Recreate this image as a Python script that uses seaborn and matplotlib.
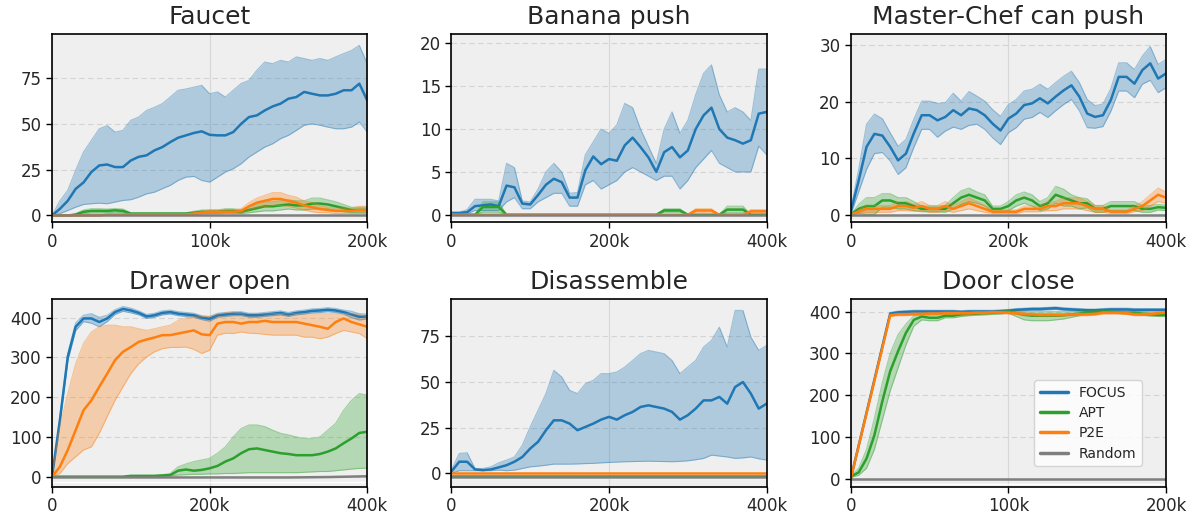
import numpy as np
import matplotlib
matplotlib.use("Agg")
import matplotlib.pyplot as plt
import matplotlib.transforms as mtransforms
from matplotlib.lines import Line2D
from matplotlib.ticker import FuncFormatter
import seaborn as sns

methods = ["FOCUS", "APT", "P2E", "Random"]
colors = {"FOCUS": "#1f77b4", "APT": "#2ca02c", "P2E": "#ff7f0e", "Random": "#7f7f7f"}

titles = ["Faucet", "Banana push", "Master-Chef can push",
          "Drawer open", "Disassemble", "Door close"]
x_max = [200_000, 400_000, 400_000, 400_000, 400_000, 200_000]
y_ticks = [[0, 25, 50, 75], [0, 5, 10, 15, 20], [0, 10, 20, 30],
           [0, 100, 200, 300, 400], [0, 25, 50, 75], [0, 100, 200, 300, 400]]
y_lims = [(-3.8, 99), (-0.9, 21.1), (-1.4, 32), (-26, 448), (-7.4, 95.5), (-20, 431)]

# ---- Faucet ----
faucet_focus_mean = [0, 3.6, 8, 14.5, 18, 23.7, 27.3, 27.8, 26.4, 26.4, 30, 32, 32.8, 35.5, 37.3, 40, 42.4,
                     43.7, 45, 45.9, 44, 43.7, 43.7, 45.5, 50, 53.7, 54.6, 57.3, 59.5, 61, 63.7, 64.6, 67.4,
                     66.4, 65.5, 65.5, 66.4, 68.3, 68.3, 71.9, 62.8]
faucet_focus_lo = [0, 1, 2.7, 4.5, 6, 6.4, 6.7, 6.4, 7.3, 8.2, 8.6, 10, 11.8, 12.7, 14.6, 16.4, 19.1, 20.9,
                   21.3, 19.1, 18.2, 20.9, 23.7, 25.5, 28.2, 31.9, 34.6, 37.3, 39.1, 41.9, 43.7, 46.4, 49.2,
                   50, 49.2, 48.2, 47.3, 47.3, 48.2, 51, 45.5]
faucet_focus_hi = [0, 8, 13.7, 24.6, 34.6, 41, 47.3, 49, 45.5, 46.4, 51.9, 53.7, 57.3, 59, 61, 64.6, 68.3,
                   69, 70, 71, 66.4, 67.4, 64.6, 68.3, 72, 73.7, 79.2, 83.7, 82.8, 84.6, 83.7, 86.5, 85.6,
                   84.6, 85.6, 84.6, 86.5, 88.3, 90, 92.8, 82.8]
faucet_apt_mean = [0, 0, 0, 0.5, 2, 2.5, 2.5, 2.5, 2.8, 2.5, 1, 1, 1, 1, 1, 1, 1, 1, 1.5, 2, 2, 2, 2.5, 2.5,
                   2, 3, 4, 5, 5, 5.5, 6, 5.5, 5.5, 6.5, 6.5, 6, 5, 4, 3, 3, 3]
faucet_apt_sd = [0, 0, 0, 0.5, 1, 1.2, 1.2, 1, 1, 1, 0.5, 0.5, 0.5, 0.5, 0.5, 0.5, 0.5, 0.5, 0.8, 1, 1, 1,
                 1.2, 1.2, 1, 1.5, 2, 2.5, 2.5, 2.5, 2.5, 2.5, 2.5, 3, 3, 2.5, 2.5, 2, 1.5, 1.5, 1.5]
faucet_p2e_mean = [0, 0, 0, 0, 0, 0, 0, 0.5, 0.5, 0.5, 0.5, 0.5, 0.5, 0.5, 0.5, 0.5, 0.5, 0.5, 1, 1.5, 2,
                   2, 2, 2, 2.5, 5, 7, 8, 9, 9, 8, 7, 5.5, 4.5, 3.5, 3, 2.5, 2.5, 2.5, 3, 3]
faucet_p2e_sd = [0, 0, 0, 0, 0, 0, 0, 0.3, 0.3, 0.3, 0.3, 0.3, 0.3, 0.3, 0.3, 0.3, 0.3, 0.3, 0.5, 0.8, 1,
                 1, 1, 1, 1.2, 2, 2.5, 3, 3.5, 3.5, 3, 3, 2.5, 2.5, 2, 1.5, 1.5, 1.5, 1.5, 2, 2]
faucet_rand_mean = [0, 0]

# ---- Banana push ----
banana_focus_mean = [0.2, 0.2, 0.3, 1.0, 1.1, 1.2, 1.0, 3.4, 3.2, 1.3, 1.2, 2.3, 3.5, 4.2, 3.8, 2.0, 2.0,
                     5.2, 6.8, 5.9, 6.5, 6.3, 8.1, 9.0, 7.9, 6.7, 5.0, 7.3, 7.9, 6.7, 7.5, 10, 11.6, 12.5,
                     10, 9, 8.7, 8.3, 8.7, 11.8, 12]
banana_focus_lo = [0.1, 0.1, 0.1, 0.5, 0.5, 0.5, 0.5, 1.5, 2.0, 0.7, 0.7, 1.5, 2.0, 2.5, 2.5, 1.0, 1.0, 3.5,
                   4.0, 3.0, 3.5, 4.0, 5.0, 5.5, 5.0, 4.5, 4.0, 4.5, 4.5, 3.0, 4.0, 5.5, 6.5, 7.5, 6.0, 5.5,
                   5.0, 5.0, 5.0, 8.0, 7.0]
banana_focus_hi = [0.3, 0.3, 0.6, 1.8, 1.8, 1.8, 1.6, 6.0, 5.5, 1.6, 1.5, 3.0, 5.0, 6.0, 5.0, 2.5, 2.6, 7.0,
                   8.5, 10, 9.5, 10.5, 13, 12.5, 10, 8, 6, 10, 12, 9.5, 11, 14, 16.5, 17.5, 14, 12, 12.5,
                   12, 11, 17, 17]
banana_apt_mean = [0, 0, 0, 0, 0.9, 0.9, 0.9, 0, 0, 0, 0, 0, 0, 0, 0, 0, 0, 0, 0, 0, 0, 0, 0, 0, 0, 0, 0,
                   0.5, 0.5, 0.5, 0, 0, 0, 0, 0, 0.6, 0.6, 0.6, 0, 0, 0]
banana_apt_sd = [0, 0, 0, 0, 0.6, 0.6, 0.6, 0, 0, 0, 0, 0, 0, 0, 0, 0, 0, 0, 0, 0, 0, 0, 0, 0, 0, 0, 0,
                 0.2, 0.2, 0.2, 0, 0, 0, 0, 0, 0.4, 0.4, 0.4, 0, 0, 0]
banana_p2e_mean = [0, 0, 0, 0, 0, 0, 0, 0, 0, 0, 0, 0, 0, 0, 0, 0, 0, 0, 0, 0, 0, 0, 0, 0, 0, 0, 0, 0, 0,
                   0, 0, 0.5, 0.5, 0.5, 0, 0, 0, 0, 0.4, 0.4, 0.4]
banana_p2e_sd = [0, 0, 0, 0, 0, 0, 0, 0, 0, 0, 0, 0, 0, 0, 0, 0, 0, 0, 0, 0, 0, 0, 0, 0, 0, 0, 0, 0, 0,
                 0, 0, 0.2, 0.2, 0.2, 0, 0, 0, 0, 0.2, 0.2, 0.2]
banana_rand_mean = [0, 0]

# ---- Master-Chef can push ----
chef_focus_mean = [0.5, 6, 12, 14.3, 14, 12, 9.6, 10.8, 14.4, 17.6, 17.6, 16.7, 17.3, 18.5, 17.6, 18.8,
                   18.5, 17.6, 16.1, 14.9, 17, 17.9, 19.4, 19.7, 20.6, 19.7, 20.9, 22, 22.9, 20.9, 17.9,
                   17.3, 17.6, 20.3, 24.4, 24.4, 23.2, 25.6, 26.8, 24.1, 25]
chef_focus_sd = [0.5, 2, 4, 3.5, 3, 2.5, 2.5, 2.5, 2.5, 2.5, 2.5, 3, 2.5, 3, 2.5, 3, 2.5, 2.5, 2.5, 2.5,
                 2.5, 2.5, 2.5, 2.5, 2.5, 2.5, 2.5, 2.5, 2.5, 2.5, 2.5, 2, 2, 2, 2.5, 2.5, 2.5, 2.5, 3, 2.5,
                 2.5]
chef_apt_mean = [0, 1, 1.5, 1.5, 2.5, 2.5, 2, 2, 1.5, 1, 1, 1, 1, 2, 3, 3.5, 3, 2.5, 1, 1, 1.5, 2.5, 3, 2.5,
                 1.5, 2, 3.5, 3, 2.5, 2, 2, 1, 1, 1.5, 1.5, 1.5, 1.5, 1, 1, 1.3, 1.2]
chef_apt_sd = [0, 0.8, 1.5, 1.5, 1.2, 1.2, 1, 1, 0.8, 0.5, 0.5, 0.5, 0.6, 1, 1.2, 1.2, 1, 1, 0.5, 0.5, 0.8,
               1, 1, 1, 0.8, 1, 1.5, 1.5, 1, 1, 0.8, 0.6, 0.6, 0.8, 0.8, 0.8, 0.8, 0.6, 0.6, 0.5, 0.5]
chef_p2e_mean = [0, 0.5, 1, 1, 1, 1, 1.5, 1.5, 1.2, 1.5, 1, 1, 1.5, 1, 1.5, 2, 1.5, 1, 0.5, 0.5, 0.5, 0.5,
                 1, 1, 1, 1.5, 1.5, 2, 2, 2, 1.5, 1, 1, 0.5, 0.5, 0.5, 1, 1.5, 2.5, 3.5, 3]
chef_p2e_sd = [0, 0.3, 0.6, 0.6, 0.6, 0.6, 0.8, 0.8, 0.6, 0.8, 0.6, 0.6, 0.8, 0.6, 0.8, 1, 0.8, 0.6, 0.3,
               0.3, 0.3, 0.3, 0.5, 0.5, 0.5, 0.8, 0.8, 1, 1, 1, 0.8, 0.6, 0.6, 0.3, 0.3, 0.3, 0.5, 0.8, 1,
               1.2, 1]
chef_rand_mean = [0, 0]

# ---- Drawer open ----
drawer_focus_mean = [0, 142, 301, 377, 398, 398, 389, 398, 414, 422, 418, 412, 403, 406, 412, 414, 410,
                     408, 406, 400, 397, 406, 408, 410, 410, 406, 406, 408, 410, 412, 408, 412, 414, 417,
                     418, 420, 418, 414, 408, 402, 403]
drawer_focus_sd = [0, 8, 10, 10, 8, 12, 12, 8, 6, 6, 6, 5, 5, 5, 5, 5, 5, 5, 5, 5, 6, 5, 5, 5, 5, 5, 5, 5,
                   5, 5, 5, 5, 5, 5, 5, 5, 5, 5, 8, 8, 6]
drawer_apt_mean = [0, 0, 0, 0, 0, 0, 0, 0, 0, 0, 2, 2, 2, 2, 3, 4, 15, 18, 15, 17, 21, 27, 38, 46, 59, 69,
                   71, 67, 63, 59, 57, 54, 54, 54, 57, 63, 71, 84, 96, 110, 113]
drawer_apt_lo = [0, 0, 0, 0, 0, 0, 0, 0, 0, 0, 1, 1, 1, 1, 1, 2, 4, 5, 6, 6, 7, 7, 8, 8, 9, 10, 10, 10, 10,
                 10, 10, 10, 11, 12, 13, 13, 15, 17, 19, 21, 21]
drawer_apt_hi = [0, 0, 0, 0, 0, 0, 0, 0, 0, 0, 3, 3, 3, 3, 5, 8, 25, 32, 38, 42, 46, 59, 75, 100, 121, 130,
                 130, 126, 117, 109, 105, 100, 96, 96, 100, 117, 134, 167, 192, 209, 205]
drawer_p2e_mean = [0, 25, 67, 117, 167, 192, 226, 259, 293, 314, 326, 339, 345, 350, 356, 356, 360, 364,
                   368, 358, 356, 385, 389, 389, 385, 389, 389, 392, 389, 389, 389, 389, 385, 381, 377,
                   372, 389, 398, 389, 383, 377]
drawer_p2e_lo = [0, 8, 33, 50, 67, 75, 109, 151, 192, 226, 259, 284, 301, 314, 322, 325, 325, 326, 320,
                 310, 318, 356, 361, 360, 364, 361, 360, 358, 356, 356, 356, 356, 351, 351, 347, 351, 360,
                 368, 364, 360, 347]
drawer_p2e_hi = [0, 126, 209, 284, 335, 364, 377, 381, 381, 377, 377, 372, 368, 372, 377, 381, 393, 400,
                 402, 402, 403, 408, 412, 412, 410, 410, 410, 410, 410, 410, 410, 410, 410, 410, 410, 410,
                 410, 410, 410, 408, 402]
drawer_rand_mean = [-2, -2, -2, -2, -2, -2, -2, -1, 1]

# ---- Disassemble ----
disasm_focus_mean = [1, 6.4, 6.4, 2.2, 1.8, 2.2, 3.3, 4.5, 6.4, 9, 13.6, 17.3, 23.6, 29, 29, 27.2, 23.6,
                     25.4, 27.2, 29.4, 30.9, 29.4, 31.8, 33.6, 36.3, 37.2, 36.3, 35.4, 33.6, 29.4, 31.8,
                     35.4, 39.9, 39.9, 41.8, 38.1, 47.2, 49.9, 43.6, 35.4, 38.1]
disasm_focus_lo = [0, 1.5, 1.5, 1.5, 1.5, 1.5, 1.8, 1.5, 1.8, 2.7, 3.6, 4, 4.5, 5.1, 5.1, 5.1, 5.2, 5.4,
                   5.5, 5.8, 6, 6.2, 6.4, 6.5, 6.6, 6.7, 6.6, 6.5, 6.4, 6.6, 6.9, 7.5, 8.2, 10, 9.5, 9, 8.2,
                   8.5, 9, 8, 7.3]
disasm_focus_hi = [2, 10.9, 11.3, 2.7, 2.7, 3.6, 5.8, 7.3, 9, 15.4, 25.4, 34.5, 43.6, 56.3, 52.7, 45.4,
                   43.6, 49, 50.8, 54.5, 54.5, 55.4, 58.1, 61.7, 65.4, 67.2, 66.3, 65.4, 61.7, 54.5, 58.1,
                   61.7, 69, 72.6, 79.9, 69, 89, 89, 74.5, 67.2, 69.9]
disasm_apt_mean = [-1.2, -1.2]
disasm_p2e_mean = [0, 0]
disasm_rand_mean = [-2.2, -2.2]

# ---- Door close ----
door_focus_mean = [0, 79, 158, 237, 316, 395, 398, 399, 400, 400, 400, 400, 400, 400, 399, 400, 400, 400,
                   400, 401, 402, 404, 405, 406, 406, 407, 408, 406, 405, 404, 403, 403, 404, 405, 405,
                   405, 404, 404, 404, 404, 404]
door_focus_sd = [0, 2, 2, 2, 2, 3, 3, 3, 3, 3, 3, 3, 3, 3, 3, 3, 3, 3, 3, 3, 3, 3, 3, 3, 3, 3, 3, 3, 3, 3,
                 3, 3, 3, 3, 3, 3, 3, 3, 3, 3, 3]
door_apt_mean = [5, 15, 48, 104, 185, 257, 305, 349, 380, 388, 385, 385, 390, 390, 393, 394, 395, 396,
                 397, 398, 400, 396, 392, 390, 390, 390, 390, 391, 393, 395, 398, 399, 400, 399, 398, 397,
                 397, 395, 393, 392, 392]
door_apt_lo = [3, 8, 25, 70, 140, 210, 265, 320, 365, 380, 378, 378, 385, 385, 388, 390, 391, 392, 393,
               394, 396, 388, 380, 378, 378, 378, 380, 382, 386, 390, 394, 396, 397, 396, 395, 394, 393,
               391, 389, 388, 388]
door_apt_hi = [7, 25, 70, 145, 230, 300, 345, 370, 390, 395, 392, 392, 395, 395, 396, 397, 398, 399, 400,
               401, 403, 402, 400, 400, 400, 400, 400, 400, 400, 401, 402, 402, 403, 402, 401, 400, 400,
               399, 397, 396, 396]
door_p2e_mean = [0, 78, 156, 234, 312, 391, 393, 393, 394, 394, 395, 395, 396, 396, 396, 396, 397, 397,
                 398, 398, 397, 396, 394, 393, 392, 392, 392, 392, 393, 393, 393, 394, 397, 397, 397, 396,
                 393, 393, 394, 396, 398]
door_p2e_sd = [0, 2, 2, 2, 2, 3, 3, 3, 3, 3, 3, 3, 3, 3, 3, 3, 3, 3, 3, 3, 3, 3, 3, 3, 3, 3, 3, 3, 3, 3, 3,
               3, 3, 3, 3, 3, 3, 3, 3, 3, 3]
door_rand_mean = [0, 0]


def sym(mean, sd):
    return np.subtract(mean, sd), np.add(mean, sd)


panels = [
    {"FOCUS": (faucet_focus_mean, faucet_focus_lo, faucet_focus_hi),
     "APT": (faucet_apt_mean, *sym(faucet_apt_mean, faucet_apt_sd)),
     "P2E": (faucet_p2e_mean, *sym(faucet_p2e_mean, faucet_p2e_sd)),
     "Random": (faucet_rand_mean, None, None)},
    {"FOCUS": (banana_focus_mean, banana_focus_lo, banana_focus_hi),
     "APT": (banana_apt_mean, *sym(banana_apt_mean, banana_apt_sd)),
     "P2E": (banana_p2e_mean, *sym(banana_p2e_mean, banana_p2e_sd)),
     "Random": (banana_rand_mean, None, None)},
    {"FOCUS": (chef_focus_mean, *sym(chef_focus_mean, chef_focus_sd)),
     "APT": (chef_apt_mean, *sym(chef_apt_mean, chef_apt_sd)),
     "P2E": (chef_p2e_mean, *sym(chef_p2e_mean, chef_p2e_sd)),
     "Random": (chef_rand_mean, None, None)},
    {"FOCUS": (drawer_focus_mean, *sym(drawer_focus_mean, drawer_focus_sd)),
     "APT": (drawer_apt_mean, drawer_apt_lo, drawer_apt_hi),
     "P2E": (drawer_p2e_mean, drawer_p2e_lo, drawer_p2e_hi),
     "Random": (drawer_rand_mean, None, None)},
    {"FOCUS": (disasm_focus_mean, disasm_focus_lo, disasm_focus_hi),
     "APT": (disasm_apt_mean, None, None),
     "P2E": (disasm_p2e_mean, None, None),
     "Random": (disasm_rand_mean, None, None)},
    {"FOCUS": (door_focus_mean, *sym(door_focus_mean, door_focus_sd)),
     "APT": (door_apt_mean, door_apt_lo, door_apt_hi),
     "P2E": (door_p2e_mean, *sym(door_p2e_mean, door_p2e_sd)),
     "Random": (door_rand_mean, None, None)},
]

sns.set_style("ticks")
plt.rcParams["font.family"] = ["DejaVu Sans"]

fig, axes = plt.subplots(2, 3, figsize=(11.93, 5.18), dpi=100)
fig.subplots_adjust(left=52 / 1193, right=1166 / 1193, top=1 - 34 / 518, bottom=1 - 487 / 518,
                    wspace=0.267, hspace=0.404)

k_fmt = FuncFormatter(lambda v, p: "0" if v == 0 else f"{int(round(v / 1000))}k")

for i, ax in enumerate(axes.flat):
    ax.set_facecolor("#efefef")
    ax.set_axisbelow(True)
    for m in methods:
        mean, lo, hi = panels[i][m]
        c = colors[m]
        x = np.linspace(0, x_max[i], len(mean))
        if lo is not None:
            ax.fill_between(x, lo, hi, color=c, alpha=0.3, lw=0)
            ax.plot(x, lo, color=c, alpha=0.4, lw=0.8)
            ax.plot(x, hi, color=c, alpha=0.4, lw=0.8)
        sns.lineplot(x=x, y=mean, color=c, lw=1.8, ax=ax)
    # thin light line just under zero
    ax.plot([0, 1], [0, 0], color="white", lw=1, zorder=1,
            transform=mtransforms.offset_copy(ax.get_yaxis_transform(), fig=fig, y=-5, units="dots"))

    ax.set_xlim(0, x_max[i])
    ax.set_ylim(*y_lims[i])
    ax.set_xticks([0, x_max[i] / 2, x_max[i]])
    ax.xaxis.set_major_formatter(k_fmt)
    ax.set_yticks(y_ticks[i])
    ax.tick_params(labelsize=12, length=4, width=1, color="black")
    ax.xaxis.grid(True, color="#d8d8d8", lw=0.9)
    ax.yaxis.grid(True, color="#d4d4d4", lw=0.8, ls=(0, (5, 3)))
    for s in ax.spines.values():
        s.set_visible(True)
        s.set_color("black")
        s.set_linewidth(1.2)
    ax.set_title(titles[i], fontsize=18, pad=7)
    ax.set_xlabel("")
    ax.set_ylabel("")

handles = [Line2D([0], [0], color=colors[m], lw=2.5) for m in methods]
axes[1, 2].legend(handles, methods, loc="lower right", bbox_to_anchor=(0.924, 0.111),
                  borderaxespad=0, fontsize=10, framealpha=0.8, edgecolor="#cccccc",
                  handlelength=2.0, labelspacing=0.45)

plt.savefig("out.png", dpi=100)
